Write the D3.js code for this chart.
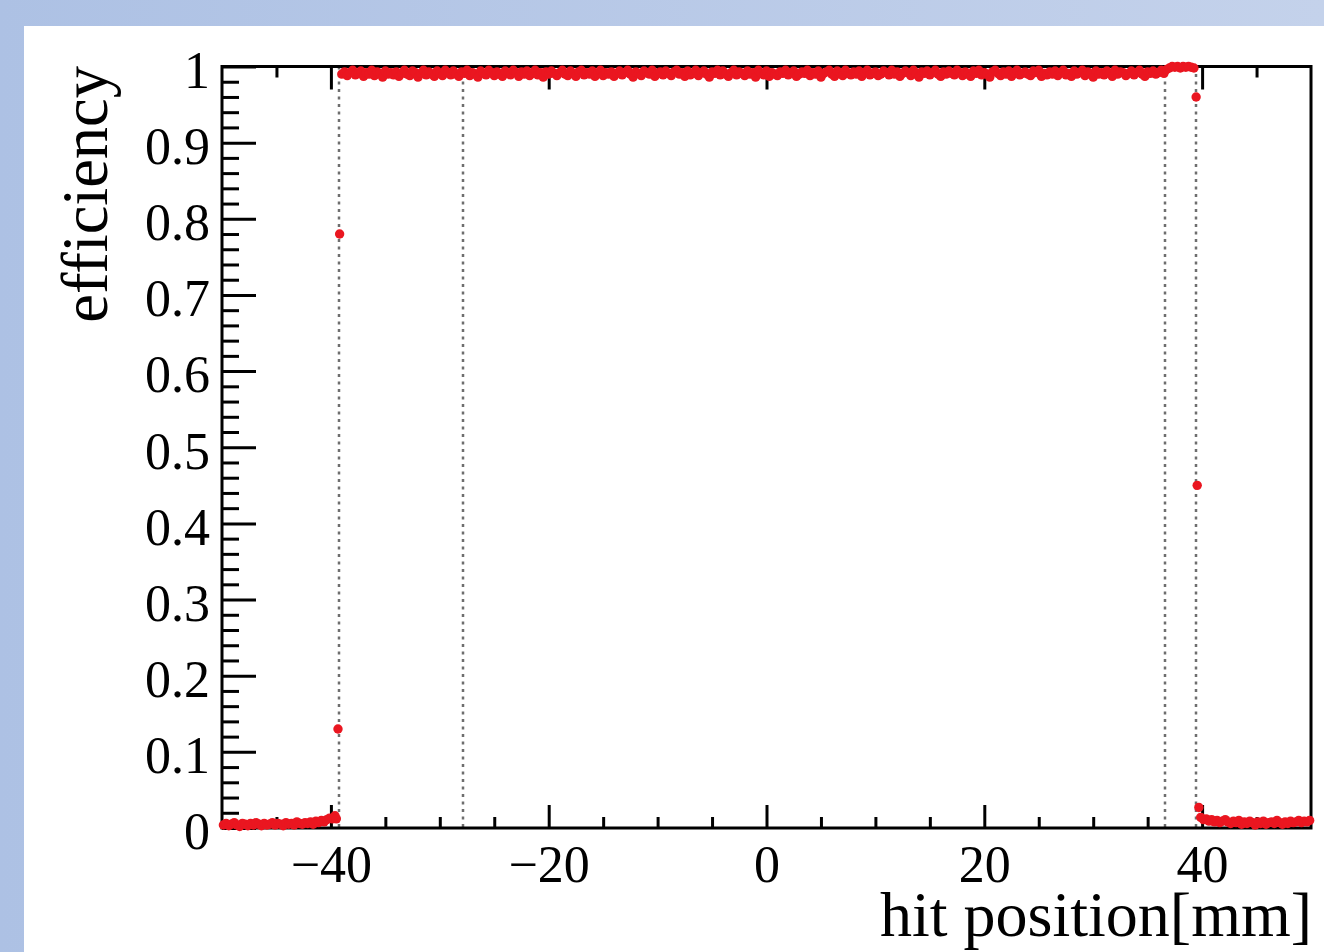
<!DOCTYPE html>
<html>
<head>
<meta charset="utf-8">
<script src="https://cdn.jsdelivr.net/npm/d3@7"></script>
<style>
  html, body { margin: 0; padding: 0; background: #fff; }
  svg { display: block; }
</style>
</head>
<body>
<svg id="chart" width="1324" height="952"></svg>
<script>
// ---------------- data ----------------
const xDomain = [-50, 50];
const yDomain = [0, 1];
const xMajorTicks = [-40, -20, 0, 20, 40];
const xTickLabels = ["\u221240", "\u221220", "0", "20", "40"];
const xMinorTicks = [-45, -35, -30, -25, -15, -10, -5, 5, 10, 15, 25, 30, 35, 45];
const yMajorTicks = [0, 0.1, 0.2, 0.3, 0.4, 0.5, 0.6, 0.7, 0.8, 0.9, 1];
const yTickLabels = ["0", "0.1", "0.2", "0.3", "0.4", "0.5", "0.6", "0.7", "0.8", "0.9", "1"];
const yMinorTicks = [0.02,0.04,0.06,0.08,0.12,0.14,0.16,0.18,0.22,0.24,0.26,0.28,0.32,0.34,0.36,0.38,
  0.42,0.44,0.46,0.48,0.52,0.54,0.56,0.58,0.62,0.64,0.66,0.68,0.72,0.74,0.76,0.78,
  0.82,0.84,0.86,0.88,0.92,0.94,0.96,0.98];
const xTitle = "hit position[mm]";
const yTitle = "efficiency";

// dotted reference lines (hit position, mm)
const boundaryLines = [-39.3, -27.85, 36.55, 39.4];

// efficiency in 0.25 mm bins
const binWidth = 0.25;
const leftTailStart = -49.875;
const leftTail = [
  0.004,0.006,0.003,0.005,0.007,0.004,0.002,0.006,0.005,0.003,
  0.006,0.004,0.007,0.005,0.003,0.006,0.004,0.005,0.007,0.004,
  0.006,0.005,0.003,0.007,0.005,0.006,0.004,0.008,0.006,0.005,
  0.007,0.006,0.008,0.005,0.009,0.007,0.010,0.008,0.011,0.013,0.012,0.016];
const plateauStart = -39.0;
const plateau = [
  0.990,0.993,0.988,0.992,0.995,0.989,0.991,0.994,0.987,0.992,0.990,0.995,0.988,0.993,0.991,0.986,0.994,0.990,0.992,0.989,
  0.993,0.987,0.991,0.995,0.990,0.988,0.994,0.992,0.986,0.991,0.995,0.989,0.993,0.990,0.987,0.994,0.991,0.988,0.995,0.992,
  0.989,0.994,0.990,0.987,0.993,0.991,0.995,0.988,0.992,0.990,0.986,0.994,0.991,0.989,0.995,0.992,0.988,0.993,0.990,0.987,
  0.994,0.991,0.989,0.995,0.992,0.987,0.993,0.990,0.994,0.988,0.991,0.995,0.989,0.992,0.986,0.993,0.990,0.994,0.991,0.988,
  0.992,0.995,0.990,0.988,0.994,0.991,0.987,0.993,0.995,0.989,0.992,0.990,0.994,0.987,0.991,0.995,0.988,0.992,0.990,0.993,
  0.987,0.991,0.994,0.989,0.992,0.995,0.990,0.986,0.993,0.991,0.988,0.994,0.992,0.990,0.995,0.987,0.991,0.993,0.989,0.994,
  0.991,0.988,0.993,0.995,0.990,0.992,0.987,0.994,0.989,0.991,0.995,0.988,0.992,0.994,0.990,0.986,0.993,0.991,0.995,0.989,
  0.994,0.990,0.987,0.992,0.995,0.989,0.993,0.991,0.988,0.994,0.990,0.992,0.986,0.995,0.991,0.989,0.994,0.987,0.992,0.990,
  0.988,0.993,0.991,0.995,0.989,0.992,0.994,0.987,0.990,0.993,0.991,0.995,0.988,0.992,0.990,0.994,0.986,0.991,0.993,0.995,
  0.990,0.987,0.994,0.992,0.988,0.995,0.991,0.989,0.993,0.990,0.994,0.987,0.992,0.995,0.989,0.991,0.993,0.988,0.990,0.994,
  0.992,0.989,0.995,0.990,0.993,0.987,0.991,0.994,0.992,0.988,0.995,0.990,0.986,0.993,0.991,0.994,0.989,0.992,0.995,0.990,
  0.987,0.993,0.990,0.994,0.991,0.989,0.995,0.992,0.988,0.993,0.990,0.987,0.994,0.991,0.995,0.989,0.992,0.990,0.986,0.993,
  0.995,0.991,0.988,0.993,0.990,0.994,0.987,0.992,0.995,0.989,0.991,0.993,0.990,0.988,0.994,0.992,0.995,0.987,0.991,0.989,
  0.993,0.990,0.994,0.988,0.992,0.995,0.989,0.991,0.987,0.994,0.990,0.992,0.995,0.988,0.993,0.991,0.986,0.994,0.990,0.992,
  0.989,0.994,0.991,0.987,0.995,0.990,0.993,0.992,0.988,0.991,0.994,0.989,0.992,0.995,0.990,0.987,0.993,0.991,0.994,0.990,
  0.992,0.995,0.991];
const bumpStart = 36.75;
const bump = [0.996,0.998,1.000,0.999,1.000,0.998,1.000,0.999,1.000,0.999,0.998];
const rightTailStart = 39.875;
const rightTail = [
  0.014,0.011,0.012,0.009,0.011,0.008,0.010,0.007,0.009,0.011,
  0.008,0.006,0.009,0.007,0.010,0.005,0.008,0.006,0.009,0.007,
  0.004,0.008,0.006,0.009,0.005,0.007,0.008,0.006,0.010,0.007,
  0.005,0.008,0.006,0.009,0.007,0.008,0.010,0.007,0.009,0.008,0.010];
// single fine bins on the two edges
const edgeX = [-39.5, -39.35, -39.2, 39.45, 39.55, 39.7];
const edgeY = [0.012, 0.13, 0.78, 0.96, 0.45, 0.027];

// ---------------- drawing ----------------
const svg = d3.select("#chart");
const W = 1324, H = 952;
const FONT = "'Liberation Serif', 'Times New Roman', serif";

// background
const defs = svg.append("defs");
const grad = defs.append("linearGradient").attr("id", "bg").attr("x1", "0").attr("x2", "1").attr("y1", "0").attr("y2", "0");
grad.append("stop").attr("offset", "0").attr("stop-color", "#adc1e4");
grad.append("stop").attr("offset", "1").attr("stop-color", "#c4d2eb");
svg.append("rect").attr("width", W).attr("height", H).attr("fill", "url(#bg)");
svg.append("rect").attr("x", 24).attr("y", 26).attr("width", W - 24).attr("height", H - 26).attr("fill", "#ffffff");

const L = 222, R = 1311, T = 66.5, B = 828;
const x = d3.scaleLinear().domain(xDomain).range([L, R]);
const y = d3.scaleLinear().domain(yDomain).range([B, T]);

// dotted lines
svg.append("g").selectAll("line").data(boundaryLines).join("line")
  .attr("x1", d => Math.round(x(d))).attr("x2", d => Math.round(x(d)))
  .attr("y1", T).attr("y2", B)
  .attr("stroke", "#6e6e6e").attr("stroke-width", 2.5)
  .attr("stroke-dasharray", "3,4.5");

function styleAxis(g) {
  g.select(".domain").remove();
  g.selectAll(".tick line").attr("stroke", "#000").attr("stroke-width", 3);
  g.selectAll("text").attr("font-family", FONT).attr("fill", "#000");
}

// bottom axis
svg.append("g").attr("transform", `translate(0,${B})`)
  .call(d3.axisBottom(x).tickValues(xMajorTicks).tickSizeInner(-23).tickSizeOuter(0).tickPadding(17)
    .tickFormat((d, i) => xTickLabels[i]))
  .call(styleAxis)
  .call(g => g.selectAll("text").attr("font-size", 52));
svg.append("g").attr("transform", `translate(0,${B})`)
  .call(d3.axisBottom(x).tickValues(xMinorTicks).tickSizeInner(-11).tickSizeOuter(0).tickFormat(""))
  .call(styleAxis);
// top axis (ticks only)
svg.append("g").attr("transform", `translate(0,${T})`)
  .call(d3.axisTop(x).tickValues(xMajorTicks).tickSizeInner(-23).tickSizeOuter(0).tickFormat(""))
  .call(styleAxis);
svg.append("g").attr("transform", `translate(0,${T})`)
  .call(d3.axisTop(x).tickValues(xMinorTicks).tickSizeInner(-11).tickSizeOuter(0).tickFormat(""))
  .call(styleAxis);
// left axis
svg.append("g").attr("transform", `translate(${L},0)`)
  .call(d3.axisLeft(y).tickValues(yMajorTicks).tickSizeInner(-34).tickSizeOuter(0).tickPadding(12)
    .tickFormat((d, i) => yTickLabels[i]))
  .call(styleAxis)
  .call(g => g.selectAll("text").attr("font-size", 52).attr("dy", "0.4em"));
svg.append("g").attr("transform", `translate(${L},0)`)
  .call(d3.axisLeft(y).tickValues(yMinorTicks).tickSizeInner(-17).tickSizeOuter(0).tickFormat(""))
  .call(styleAxis);

// frame
svg.append("rect").attr("x", L).attr("y", T).attr("width", R - L).attr("height", B - T)
  .attr("fill", "none").attr("stroke", "#000").attr("stroke-width", 3);

// data points
const points = [];
leftTail.forEach((v, i) => points.push([leftTailStart + i * binWidth, v]));
plateau.forEach((v, i) => points.push([plateauStart + i * binWidth, v]));
bump.forEach((v, i) => points.push([bumpStart + i * binWidth, v]));
rightTail.forEach((v, i) => points.push([rightTailStart + i * binWidth, v]));
edgeX.forEach((xv, i) => points.push([xv, edgeY[i]]));

svg.append("g").selectAll("circle").data(points).join("circle")
  .attr("cx", d => x(d[0])).attr("cy", d => y(d[1]))
  .attr("r", 4.7)
  .attr("fill", "#ea1620");

// axis titles
svg.append("text")
  .attr("x", 1312).attr("y", 936)
  .attr("text-anchor", "end")
  .attr("font-family", FONT).attr("font-size", 64).attr("fill", "#000")
  .text(xTitle);
svg.append("text")
  .attr("transform", "translate(107,66) rotate(-90)")
  .attr("text-anchor", "end")
  .attr("font-family", FONT).attr("font-size", 64.5).attr("fill", "#000")
  .text(yTitle);
</script>
</body>
</html>
